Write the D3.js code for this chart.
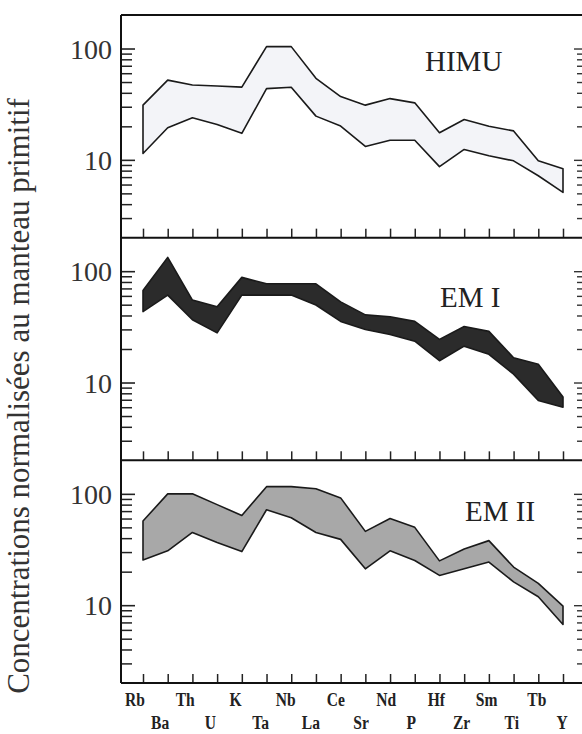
<!DOCTYPE html>
<html><head><meta charset="utf-8">
<script src="https://cdn.jsdelivr.net/npm/d3@7"></script>
<style>
html,body{margin:0;padding:0;background:#fff;}
svg{display:block;}
.serif{font-family:"Liberation Serif","DejaVu Serif",serif;}
</style></head>
<body>
<svg id="chart" width="582" height="734"></svg>
<script>
// ---- data ----
const elements = ["Rb","Ba","Th","U","K","Ta","Nb","La","Ce","Sr","Nd","P","Hf","Zr","Sm","Ti","Tb","Y"];
const panelNames = ["HIMU","EM I","EM II"];
const himuUpper = [31,52,47,46,45,104,104,54,37,31,35.5,32.5,17.5,23,20,18.2,9.8,8.3];
const himuLower = [11.4,19.4,23.9,20.8,17.3,43.6,44.9,24.7,20.1,13.2,15,15,8.7,12.4,10.9,9.8,7.2,5.1];
const em1Upper  = [67,133,55,48,88,77,77,77,53,40.5,39,35.4,24.4,31.9,28.8,16.7,14.6,7.4];
const em1Lower  = [43.4,61,36.6,27.9,61,61,61,49.7,35.4,29.9,27,23.5,15.7,21.2,17.9,11.9,6.9,6.0];
const em2Upper  = [57,100,100,80,64,116,116,111,92,46,60,50,25,32,38,22,15.7,9.8];
const em2Lower  = [25.5,30.8,45,36.6,30.3,72,61,45,39,21.2,30.8,25.2,18.5,21.2,24.4,16.2,11.9,6.7];
const majorTicks = [10,100];
const minorTicks = [3,4,5,6,7,8,9,20,30,40,50,60,70,80,90];
const yTitle = "Concentrations normalisées au manteau primitif";

// ---- layout ----
const svg = d3.select("#chart");
const frameL = 121, frameR = 586, frameT = 15, frameB = 683;
const panelH = (frameB - frameT) / 3;
const x = d3.scalePoint().domain(elements).range([143, 563]);
const xLab = d3.scalePoint().domain(elements).range([135, 562]);

const panels = [
  {name: panelNames[0], upper: himuUpper, lower: himuLower, fill: "#f3f4f8", lx: 425, ly: 71},
  {name: panelNames[1], upper: em1Upper,  lower: em1Lower,  fill: "#2b2b2b", lx: 440, ly: 307},
  {name: panelNames[2], upper: em2Upper,  lower: em2Lower,  fill: "#a8a8a8", lx: 465, ly: 521}
];

panels.forEach((p, i) => {
  const y0 = frameT + i * panelH, y1 = y0 + panelH;
  const y = d3.scaleLog().domain([2, 200]).range([y1, y0]);
  const g = svg.append("g");

  // band
  const area = d3.area()
    .x((d, j) => x(elements[j]))
    .y0((d, j) => y(p.lower[j]))
    .y1((d, j) => y(p.upper[j]));
  g.append("path").datum(elements)
    .attr("d", area)
    .attr("fill", p.fill)
    .attr("stroke", "#1a1a1a")
    .attr("stroke-width", 1.6)
    .attr("stroke-linejoin", "round");

  // left axis major (labels)
  const majAx = g.append("g").attr("transform", `translate(${frameL},0)`)
    .call(d3.axisLeft(y).tickValues(majorTicks).tickSizeInner(-14).tickSizeOuter(0)
      .tickPadding(9).tickFormat(d3.format("d")));
  majAx.attr("font-family", null);
  majAx.select(".domain").remove();
  majAx.selectAll("line").attr("stroke", "#222").attr("stroke-width", 1.6);
  majAx.selectAll("text").attr("class", "serif").attr("font-size", 28)
    .attr("fill", "#333").attr("dy", "0.34em");

  // left axis minor
  const minAx = g.append("g").attr("transform", `translate(${frameL},0)`)
    .call(d3.axisLeft(y).tickValues(minorTicks).tickSizeInner(-11).tickSizeOuter(0).tickFormat(""));
  minAx.select(".domain").remove();
  minAx.selectAll("line").attr("stroke", "#222").attr("stroke-width", 1.5);

  // right axis ticks
  [[majorTicks, 12], [minorTicks, 9]].forEach(([tv, len]) => {
    const ra = g.append("g").attr("transform", `translate(${frameR},0)`)
      .call(d3.axisLeft(y).tickValues(tv).tickSizeInner(len).tickSizeOuter(0).tickFormat(""));
    ra.select(".domain").remove();
    ra.selectAll("line").attr("stroke", "#333").attr("stroke-width", 1.4);
  });

  // x ticks (pointing up at panel bottom)
  const xa = g.append("g").attr("transform", `translate(0,${y1})`)
    .call(d3.axisBottom(x).tickSizeInner(-9).tickSizeOuter(0).tickFormat(""));
  xa.select(".domain").remove();
  xa.selectAll("line").attr("stroke", "#222").attr("stroke-width", 1.5);

  // panel separator / frame line at bottom
  g.append("line").attr("x1", frameL).attr("x2", frameR).attr("y1", y1).attr("y2", y1)
    .attr("stroke", "#111").attr("stroke-width", 2);

  // panel label
  g.append("text").attr("class", "serif").attr("x", p.lx).attr("y", p.ly).text(p.name)
    .attr("font-size", 29).attr("fill", "#222");
});

// frame
svg.append("line").attr("x1", frameL).attr("x2", frameR).attr("y1", frameT).attr("y2", frameT)
  .attr("stroke", "#111").attr("stroke-width", 2);
svg.append("line").attr("x1", frameL).attr("x2", frameL).attr("y1", frameT).attr("y2", frameB)
  .attr("stroke", "#111").attr("stroke-width", 2);

// x labels (two staggered rows)
svg.append("g").selectAll("text").data(elements).join("text")
  .attr("class", "serif")
  .attr("transform", (d, i) => `translate(${xLab(d)},${i % 2 === 0 ? 706 : 729}) scale(0.82,1)`)
  .attr("text-anchor", "middle")
  .attr("font-weight", "bold").attr("font-size", 19)
  .attr("fill", "#222")
  .text(d => d);

// y title
svg.append("text")
  .attr("class", "serif")
  .attr("transform", "translate(29,396) rotate(-90)")
  .attr("text-anchor", "middle")
  .attr("font-size", 31).attr("fill", "#333")
  .text(yTitle);
</script>
</body></html>
